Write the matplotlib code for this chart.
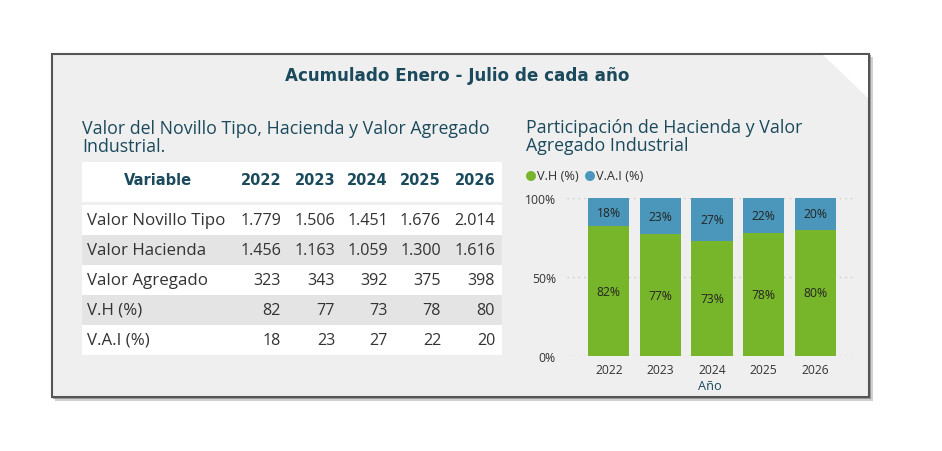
import matplotlib
matplotlib.use("Agg")
import matplotlib.pyplot as plt
from matplotlib.patches import Rectangle, Polygon, Circle

# Data
years = [2022, 2023, 2024, 2025, 2026]
row_labels = ["Valor Novillo Tipo", "Valor Hacienda", "Valor Agregado", "V.H (%)", "V.A.I (%)"]
valor_novillo = [1779, 1506, 1451, 1676, 2014]
valor_hacienda = [1456, 1163, 1059, 1300, 1616]
valor_agregado = [323, 343, 392, 375, 398]
vh_pct = [82, 77, 73, 78, 80]
vai_pct = [18, 23, 27, 22, 20]
table_rows = [valor_novillo, valor_hacienda, valor_agregado, vh_pct, vai_pct]

TEAL = "#1b4a5c"
GREEN = "#77b52a"
BLUE = "#4a97bb"
TXT = "#333333"
FONT = ["Open Sans", "DejaVu Sans"]

W, H = 942, 452
fig = plt.figure(figsize=(W / 100, H / 100), dpi=100)
fig.patch.set_facecolor("white")

bg = fig.add_axes([0, 0, 1, 1])
bg.set_xlim(0, W)
bg.set_ylim(H, 0)
bg.axis("off")

# panel, shadow and folded corner
bg.add_patch(Rectangle((55, 58), 818, 344, facecolor="#d0d0d0", edgecolor="none", zorder=0))
bg.add_patch(Rectangle((53, 56), 818, 344, facecolor="#9a9a9a", edgecolor="none", zorder=0.5))
bg.add_patch(Rectangle((52, 55), 817, 343, facecolor="#efefef", edgecolor="#555555", lw=1.5, zorder=1))
bg.add_patch(Polygon([(823, 56), (868, 56), (868, 99)], closed=True, facecolor="white",
                     edgecolor="none", zorder=1.5))

bg.text(457, 76, "Acumulado Enero - Julio de cada año", ha="center", va="center",
        fontsize=12.1, fontweight="bold", color=TEAL, family="DejaVu Sans", zorder=3)

# left: table
bg.text(82, 138, "Valor del Novillo Tipo, Hacienda y Valor Agregado\nIndustrial.",
        ha="left", va="center", fontsize=12.8, color=TEAL, family=FONT, linespacing=1.05, zorder=3)

bg.add_patch(Rectangle((82, 163), 420, 40, facecolor="white", edgecolor="none", zorder=2))
col_right = [281, 335, 388, 441, 495]
bg.text(158, 181, "Variable", ha="center", va="center", fontsize=10.5, fontweight="bold",
        color=TEAL, family="DejaVu Sans", zorder=3)
for x, yr in zip(col_right, years):
    bg.text(x, 181, str(yr), ha="right", va="center", fontsize=10.5, fontweight="bold",
            color=TEAL, family="DejaVu Sans", zorder=3)

row_top = 206
row_h = 30
for i, (lab, vals) in enumerate(zip(row_labels, table_rows)):
    y0 = row_top + i * row_h
    fc = "white" if i % 2 == 0 else "#e4e4e4"
    bg.add_patch(Rectangle((82, y0), 420, row_h, facecolor=fc, edgecolor="none", zorder=2))
    yc = y0 + row_h / 2
    bg.text(87, yc, lab, ha="left", va="center", fontsize=12.2, color=TXT, family=FONT, zorder=3)
    for x, v in zip(col_right, vals):
        bg.text(x, yc, f"{v:,}".replace(",", "."), ha="right", va="center", fontsize=11.6,
                color=TXT, family=FONT, zorder=3)

# right: stacked bars
bg.text(526, 137, "Participación de Hacienda y Valor\nAgregado Industrial", ha="left", va="center",
        fontsize=12.8, color=TEAL, family=FONT, linespacing=1.05, zorder=3)
bg.add_patch(Circle((531, 177), 5, facecolor=GREEN, edgecolor="none", zorder=3))
bg.text(537, 177, "V.H (%)", ha="left", va="center", fontsize=9.2, color=TXT, family=FONT, zorder=3)
bg.add_patch(Circle((590, 177), 5, facecolor=BLUE, edgecolor="none", zorder=3))
bg.text(596, 177, "V.A.I (%)", ha="left", va="center", fontsize=9.2, color=TXT, family=FONT, zorder=3)

ax = fig.add_axes([567 / W, 1 - 357 / H, (853 - 567) / W, (357 - 199) / H])
ax.set_facecolor("none")
xs = list(range(len(years)))
ax.bar(xs, vh_pct, width=0.8, color=GREEN, zorder=2)
ax.bar(xs, vai_pct, width=0.8, bottom=vh_pct, color=BLUE, zorder=2)
for x, g, b in zip(xs, vh_pct, vai_pct):
    ax.text(x, g / 2, f"{g}%", ha="center", va="center", fontsize=8.7, color="#252423",
            family=FONT, zorder=3)
    ax.text(x, g + b / 2, f"{b}%", ha="center", va="center", fontsize=8.7, color="#252423",
            family=FONT, zorder=3)

ax.set_xlim(-0.81, 4.73)
ax.set_ylim(0, 100)
ax.set_yticks([0, 50, 100])
ax.set_yticklabels(["0%", "50%", "100%"])
ax.set_xticks(xs)
ax.set_xticklabels([str(y) for y in years])
for y in [0, 50, 100]:
    ax.axhline(y, color="#c8c8c8", lw=1, ls=(0, (1, 3)), zorder=1)
for s in ax.spines.values():
    s.set_visible(False)
ax.tick_params(length=0, labelsize=8.7, colors="#333333")
ax.tick_params(axis="y", pad=8)
ax.tick_params(axis="x", pad=5)
for t in ax.get_xticklabels() + ax.get_yticklabels():
    t.set_family(FONT)
ax.set_xlabel("Año", fontsize=9.2, color=TEAL, family=FONT, labelpad=2)

fig.savefig("out.png", dpi=100, facecolor="white")
